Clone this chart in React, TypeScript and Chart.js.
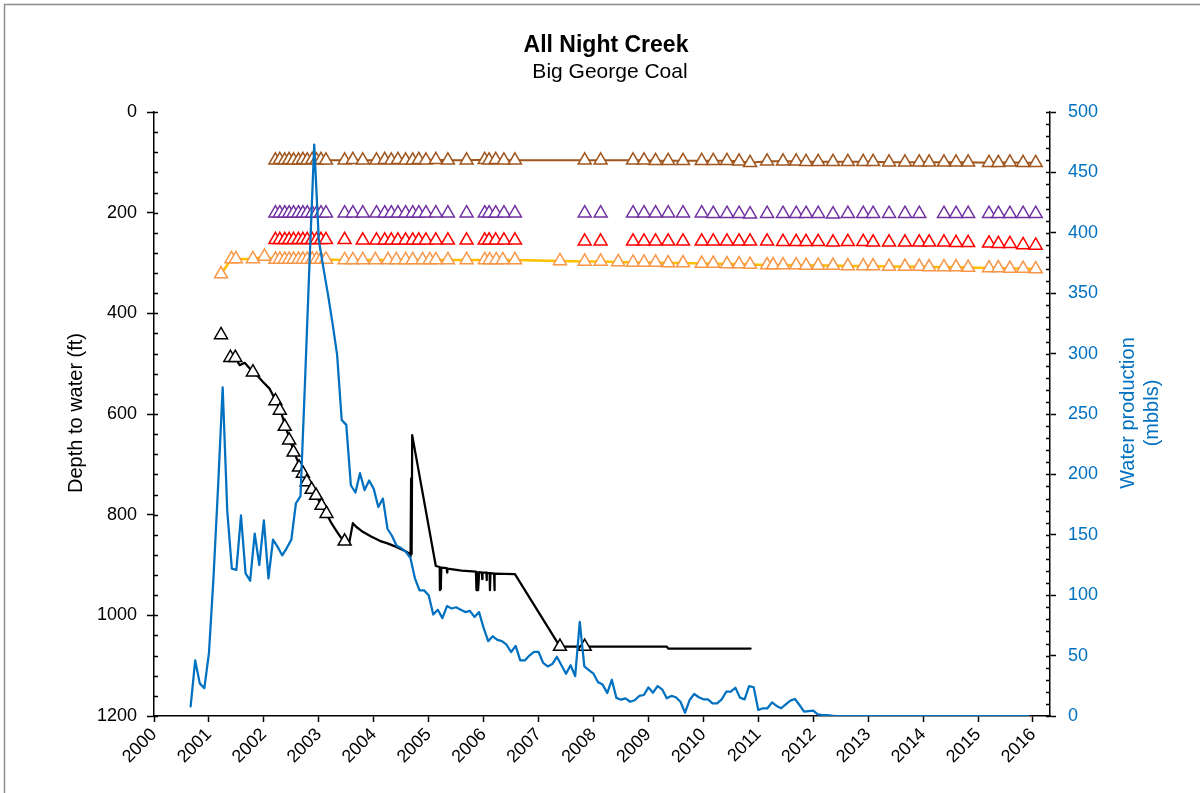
import React, { useEffect, useRef } from "react";
import { Chart, registerables } from "chart.js";

Chart.register(...registerables);

const FONT = '"Liberation Sans", Arial, Helvetica, sans-serif';

// ---- Text ----
const chartTitle = "All Night Creek";
const chartSubtitle = "Big George Coal";
const depthAxisTitle = "Depth to water (ft)";
const waterAxisTitle = ["Water production", "(mbbls)"];

// ---- Axes ----
const yearTicks = [2000, 2001, 2002, 2003, 2004, 2005, 2006, 2007, 2008, 2009, 2010, 2011, 2012, 2013, 2014, 2015, 2016];
const depthTicks = [0, 200, 400, 600, 800, 1000, 1200];
const waterTicks = [0, 50, 100, 150, 200, 250, 300, 350, 400, 450, 500];
const yearMin = 2000;
const yearMax = 2016.31;

// ---- Monthly water production (mbbls), first month Sep 2000 ----
const waterStartYear = 2000;
const waterStartMonth = 9;
const waterValues = [
  8, 46, 27, 23,
  52, 115, 190, 272, 170, 122, 121, 166, 118, 112, 151, 125,
  162, 114, 146, 140, 133, 139, 146, 176, 182, 278, 378, 473,
  394, 371, 349, 325, 299, 245, 241, 191, 185, 201, 187, 195,
  188, 173, 180, 155, 149, 141, 139, 136, 131, 114, 104, 104,
  100, 84, 88, 81, 91, 89, 90, 88, 86, 87, 82, 86,
  73, 62, 66, 63, 62, 59, 53, 58, 46, 46, 50, 53,
  53, 44, 41, 43, 49, 42, 35, 42, 33, 78, 41, 38,
  35, 28, 26, 19, 30, 15, 13.5, 14.6, 11.8, 13, 16.6, 17.4,
  23.7, 19.3, 24.8, 22.1, 14.6, 16.6, 15.5, 11.8, 2.7, 13.2, 18.2, 15.5,
  13.8, 13.8, 10.5, 10.5, 13.8, 20.1, 20.1, 23.4, 15.2, 13.8, 24.8, 23.7,
  5, 6.4, 6.4, 11.3, 8.3, 6.4, 9.7, 12.7, 14.1, 9.1, 3.6, 4.1,
  4.4, 1.4, 0.8, 0.8, 0.3, 0, 0, 0, 0, 0, 0, 0,
  0, 0, 0, 0, 0, 0, 0, 0, 0, 0, 0, 0,
  0, 0, 0, 0, 0, 0, 0, 0, 0, 0, 0, 0,
  0, 0, 0, 0, 0, 0, 0, 0, 0, 0, 0, 0,
];

// ---- Big George Coal well: transducer record (ft) ----
const coalLogYears = [
  2001.53, 2001.56, 2001.65, 2001.74, 2001.80, 2001.90, 2001.98, 2002.10, 2002.21, 2002.30,
  2002.38, 2002.47, 2002.54, 2002.64, 2002.71, 2002.78, 2002.87, 2002.95, 2003.05, 2003.14,
  2003.23, 2003.32, 2003.40, 2003.47, 2003.55, 2003.62, 2003.68, 2003.80, 2003.96, 2004.11,
  2004.25, 2004.41, 2004.55, 2004.65, 2004.67, 2004.68, 2004.685, 2004.695, 2004.70, 2005.13,
  2005.20, 2005.205, 2005.215, 2005.22, 2005.23, 2005.33, 2005.335, 2005.34, 2005.60, 2005.86,
  2005.87, 2005.88, 2005.90, 2005.92, 2005.97, 2005.975, 2005.98, 2006.05, 2006.055, 2006.06,
  2006.11, 2006.115, 2006.125, 2006.19, 2006.195, 2006.205, 2006.57, 2007.39, 2009.33, 2009.36,
  2010.86,
];
const coalLogDepths = [
  498, 503, 498, 509, 516, 526, 536, 549, 572, 592,
  620, 650, 673, 700, 716, 733, 749, 762, 782, 798,
  817, 832, 845, 852, 858, 817, 824, 834, 844, 852,
  857, 864, 871, 877, 883, 728, 878, 874, 642, 902,
  904, 950, 905, 948, 905, 906, 915, 907, 911, 913,
  950, 914, 950, 914, 915, 928, 915, 915, 930, 916,
  916, 950, 916, 917, 950, 917, 918, 1062, 1062, 1066,
  1066,
];

// ---- Big George Coal well: hand measurements (ft) ----
const coalManualYears = [
  2001.22, 2001.39, 2001.48, 2001.80, 2002.21, 2002.29, 2002.38, 2002.46, 2002.54, 2002.64,
  2002.71, 2002.78, 2002.87, 2002.95, 2003.05, 2003.14, 2003.47, 2007.39, 2007.84,
];
const coalManualDepths = [
  443, 488, 488, 517, 574, 593, 625, 652, 676, 706,
  718, 735, 750, 762, 782, 798, 853, 1062, 1062,
];

// ---- Shallower monitoring wells (ft) ----
const brownYears = [
  2002.21, 2002.29, 2002.38, 2002.46, 2002.54, 2002.63, 2002.71, 2002.79, 2002.88, 2002.96, 2003.04, 2003.13,
  2003.47, 2003.62, 2003.80, 2004.05, 2004.20, 2004.32, 2004.44, 2004.58, 2004.71, 2004.82, 2004.95, 2005.13,
  2005.35, 2005.69, 2006.02, 2006.10, 2006.22, 2006.37, 2006.57,
  2007.84, 2008.13, 2008.72, 2008.92, 2009.13, 2009.36, 2009.63, 2009.97, 2010.18, 2010.43, 2010.65, 2010.85,
  2011.16, 2011.45, 2011.69, 2011.87, 2012.09, 2012.36, 2012.63, 2012.91, 2013.09, 2013.38, 2013.67, 2013.93,
  2014.11, 2014.38, 2014.60, 2014.82, 2015.20, 2015.37, 2015.58, 2015.82, 2016.05,
];
const brownDepths = [
  96, 95, 96, 95, 96, 96, 95, 96, 95, 96, 95, 96,
  96, 95, 96, 96, 95, 96, 95, 96, 96, 95, 96, 95,
  96, 96, 95, 96, 95, 96, 96,
  96, 96, 96, 96, 97, 97, 97, 97, 97, 97, 98, 101,
  98, 98, 98, 99, 99, 99, 99, 99, 99, 100, 100, 100,
  100, 100, 100, 100, 101, 101, 100, 101, 101,
];

const purpleYears = [
  2002.21, 2002.29, 2002.38, 2002.46, 2002.54, 2002.63, 2002.71, 2002.79, 2002.88, 2002.96, 2003.04, 2003.13,
  2003.47, 2003.62, 2003.80, 2004.05, 2004.20, 2004.32, 2004.44, 2004.58, 2004.71, 2004.82, 2004.95, 2005.13,
  2005.35, 2005.69, 2006.02, 2006.10, 2006.22, 2006.37, 2006.57,
  2007.84, 2008.13, 2008.72, 2008.92, 2009.13, 2009.36, 2009.63, 2009.97, 2010.18, 2010.43, 2010.65, 2010.85,
  2011.16, 2011.45, 2011.69, 2011.87, 2012.09, 2012.36, 2012.63, 2012.91, 2013.09, 2013.38, 2013.67, 2013.93,
  2014.38, 2014.60, 2014.82, 2015.20, 2015.37, 2015.58, 2015.82, 2016.05,
];
const purpleDepths = [
  201, 201, 201, 201, 201, 201, 201, 201, 201, 201, 201, 201,
  201, 201, 201, 201, 201, 201, 201, 201, 201, 201, 201, 201,
  201, 201, 201, 201, 201, 201, 201,
  201, 201, 201, 201, 201, 201, 201, 201, 202, 202, 202, 203,
  202, 202, 202, 202, 202, 203, 202, 202, 202, 202, 202, 202,
  202, 202, 202, 202, 202, 202, 202, 202,
];

const redYears = [
  2002.21, 2002.29, 2002.38, 2002.46, 2002.54, 2002.63, 2002.71, 2002.79, 2002.88, 2002.96, 2003.04, 2003.13,
  2003.47, 2003.80, 2004.05, 2004.20, 2004.32, 2004.44, 2004.58, 2004.71, 2004.82, 2004.95, 2005.13,
  2005.35, 2005.69, 2006.02, 2006.10, 2006.22, 2006.37, 2006.57,
  2007.84, 2008.13, 2008.72, 2008.92, 2009.13, 2009.36, 2009.63, 2009.97, 2010.18, 2010.43, 2010.65, 2010.85,
  2011.16, 2011.45, 2011.69, 2011.87, 2012.09, 2012.36, 2012.63, 2012.91, 2013.09, 2013.38, 2013.67, 2013.93,
  2014.11, 2014.38, 2014.60, 2014.82, 2015.20, 2015.37, 2015.58, 2015.82, 2016.05,
];
const redDepths = [
  254, 254, 254, 254, 254, 254, 254, 254, 254, 254, 254, 254,
  254, 255, 255, 255, 255, 255, 255, 255, 255, 255, 255,
  255, 255, 255, 255, 255, 255, 255,
  257, 257, 257, 257, 257, 257, 257, 257, 257, 257, 257, 257,
  257, 258, 258, 258, 258, 259, 258, 258, 259, 259, 259, 259,
  259, 259, 260, 260, 261, 262, 262, 264, 265,
];

const orangeYears = [
  2001.22, 2001.41, 2001.49, 2001.80, 2002.01,
  2002.21, 2002.29, 2002.38, 2002.46, 2002.54, 2002.63, 2002.71, 2002.79, 2002.88, 2002.96, 2003.04, 2003.13,
  2003.47, 2003.62, 2003.80, 2004.03, 2004.26, 2004.41, 2004.58, 2004.71, 2004.89, 2005.02, 2005.13,
  2005.35, 2005.69, 2006.02, 2006.11, 2006.23, 2006.35, 2006.57,
  2007.39, 2007.84, 2008.13, 2008.45, 2008.72, 2008.92, 2009.13, 2009.36, 2009.63, 2009.97, 2010.18, 2010.43,
  2010.65, 2010.85, 2011.16, 2011.27, 2011.45, 2011.69, 2011.87, 2012.09, 2012.36, 2012.63, 2012.91, 2013.09,
  2013.38, 2013.67, 2013.93, 2014.11, 2014.38, 2014.60, 2014.82, 2015.20, 2015.37, 2015.58, 2015.82, 2016.05,
];
const orangeDepths = [
  322, 292, 292, 292, 287,
  293, 293, 293, 293, 293, 293, 293, 293, 293, 293, 293, 293,
  294, 294, 294, 294, 294, 294, 294, 294, 294, 294, 294,
  294, 294, 294, 294, 294, 294, 294,
  296, 297, 297, 298, 299, 299, 299, 300, 300, 301, 301, 302,
  302, 303, 304, 304, 304, 304, 305, 305, 305, 306, 306, 306,
  307, 307, 307, 308, 308, 308, 309, 310, 310, 311, 311, 312,
];

// ---- Colours ----
const BLUE = "#0070C0";
const BROWN = "#A0561E";
const PURPLE = "#7030A0";
const RED = "#FF0000";
const ORANGE = "#F79646";
const GOLD = "#FFC000";

const toPoints = (xs: number[], ys: number[]) => xs.map((x, i) => ({ x, y: ys[i] }));

const waterPoints = waterValues.map((v, i) => {
  const m = waterStartMonth - 1 + i;
  return { x: waterStartYear + m / 12, y: v };
});

// Extra axis furniture: inner tick halves, minor ticks, titles and frame
const furniturePlugin = {
  id: "furniture",
  beforeDraw(chart: any) {
    const { ctx, width, height } = chart;
    ctx.save();
    ctx.fillStyle = "#ffffff";
    ctx.fillRect(0, 0, width, height);
    ctx.restore();
  },
  afterDraw(chart: any) {
    const { ctx, chartArea } = chart;
    const yL = chart.scales.y;
    const yR = chart.scales.y1;
    ctx.save();

    ctx.strokeStyle = "#000";
    ctx.lineWidth = 1.5;
    ctx.beginPath();
    for (let v = 0; v <= 1200; v += 40) {
      const py = Math.round(yL.getPixelForValue(v)) + 0.5;
      ctx.moveTo(chartArea.left, py);
      ctx.lineTo(chartArea.left + 4, py);
    }
    for (let v = 0; v <= 500; v += 10) {
      const py = Math.round(yR.getPixelForValue(v)) + 0.5;
      ctx.moveTo(chartArea.right, py);
      ctx.lineTo(chartArea.right - 4, py);
    }
    ctx.stroke();

    // chart titles
    ctx.fillStyle = "#000";
    ctx.textAlign = "center";
    ctx.textBaseline = "middle";
    ctx.font = `bold 23px ${FONT}`;
    ctx.fillText(chartTitle, 606, 46);
    ctx.font = `21px ${FONT}`;
    ctx.fillText(chartSubtitle, 610, 72);

    // left axis title
    ctx.save();
    ctx.translate(76, 413);
    ctx.rotate(-Math.PI / 2);
    ctx.font = `20px ${FONT}`;
    ctx.fillStyle = "#000";
    ctx.fillText(depthAxisTitle, 0, 0);
    ctx.restore();

    // right axis title
    ctx.save();
    ctx.translate(1140, 413);
    ctx.rotate(-Math.PI / 2);
    ctx.font = `20px ${FONT}`;
    ctx.fillStyle = BLUE;
    ctx.fillText(waterAxisTitle[0], 0, -12);
    ctx.fillText(waterAxisTitle[1], 0, 12);
    ctx.restore();

    // outer frame
    ctx.strokeStyle = "#8c8c8c";
    ctx.lineWidth = 1.5;
    ctx.beginPath();
    ctx.moveTo(4.5, 800);
    ctx.lineTo(4.5, 4.5);
    ctx.lineTo(1200, 4.5);
    ctx.stroke();

    ctx.restore();
  },
};

const tickFont = { size: 18, family: FONT };

export default function App() {
  const canvasRef = useRef<HTMLCanvasElement | null>(null);

  useEffect(() => {
    const canvas = canvasRef.current;
    if (!canvas) return;

    const triangle = (color: string) => ({
      pointStyle: "triangle",
      pointRadius: 7.5,
      pointBackgroundColor: "#ffffff",
      pointBorderColor: color,
      pointBorderWidth: 1.5,
    });

    const chart = new Chart(canvas, {
      type: "scatter",
      data: {
        datasets: [
          {
            label: "Water production",
            data: waterPoints,
            yAxisID: "y1",
            showLine: true,
            borderColor: BLUE,
            borderWidth: 2.25,
            pointRadius: 0,
            order: 0,
          },
          {
            label: "Big George Coal (hand)",
            data: toPoints(coalManualYears, coalManualDepths),
            yAxisID: "y",
            showLine: false,
            ...triangle("#000"),
            order: 1,
          },
          {
            label: "Big George Coal",
            data: toPoints(coalLogYears, coalLogDepths),
            yAxisID: "y",
            showLine: true,
            borderColor: "#000",
            borderWidth: 2.25,
            pointRadius: 0,
            order: 2,
          },
          {
            label: "Well A",
            data: toPoints(brownYears, brownDepths),
            yAxisID: "y",
            showLine: true,
            borderColor: BROWN,
            borderWidth: 2,
            ...triangle(BROWN),
            order: 3,
          },
          {
            label: "Well B",
            data: toPoints(purpleYears, purpleDepths),
            yAxisID: "y",
            showLine: false,
            borderColor: PURPLE,
            ...triangle(PURPLE),
            order: 4,
          },
          {
            label: "Well C",
            data: toPoints(redYears, redDepths),
            yAxisID: "y",
            showLine: false,
            borderColor: RED,
            ...triangle(RED),
            order: 5,
          },
          {
            label: "Well D",
            data: toPoints(orangeYears, orangeDepths),
            yAxisID: "y",
            showLine: true,
            borderColor: GOLD,
            borderWidth: 2.5,
            ...triangle(ORANGE),
            order: 6,
          },
        ] as any,
      },
      options: {
        responsive: false,
        animation: false,
        events: [],
        layout: { padding: { top: 112, left: 0, right: 0, bottom: 0 } },
        elements: {
          line: { tension: 0, borderJoinStyle: "round", borderCapStyle: "round" },
        },
        plugins: {
          legend: { display: false },
          tooltip: { enabled: false },
          title: { display: false },
        },
        scales: {
          x: {
            type: "linear",
            position: "bottom",
            min: yearMin,
            max: yearMax,
            afterBuildTicks: (s: any) => {
              s.ticks = yearTicks.map((v) => ({ value: v }));
            },
            afterFit: (s: any) => {
              s.height = 77;
            },
            grid: { drawOnChartArea: false, drawTicks: true, tickLength: 6, tickColor: "#000", tickWidth: 1.5 },
            border: { display: true, color: "#000", width: 1.5 },
            ticks: {
              autoSkip: false,
              minRotation: 45,
              maxRotation: 45,
              padding: 2,
              color: "#000",
              font: tickFont,
              callback: (v: any) => String(v),
            },
          },
          y: {
            type: "linear",
            position: "left",
            reverse: true,
            min: 0,
            max: 1200,
            afterBuildTicks: (s: any) => {
              s.ticks = depthTicks.map((v) => ({ value: v }));
            },
            afterFit: (s: any) => {
              s.width = 154;
            },
            grid: { drawOnChartArea: false, drawTicks: true, tickLength: 7, tickColor: "#000", tickWidth: 1.5 },
            border: { display: true, color: "#000", width: 1.5 },
            ticks: { padding: 10, color: "#000", font: tickFont, callback: (v: any) => String(v) },
          },
          y1: {
            type: "linear",
            position: "right",
            min: 0,
            max: 500,
            afterBuildTicks: (s: any) => {
              s.ticks = waterTicks.map((v) => ({ value: v }));
            },
            afterFit: (s: any) => {
              s.width = 152;
            },
            grid: { drawOnChartArea: false, drawTicks: true, tickLength: 6, tickColor: "#000", tickWidth: 1.5 },
            border: { display: true, color: "#000", width: 1.5 },
            ticks: { padding: 12, color: BLUE, font: tickFont, callback: (v: any) => String(v) },
          },
        },
      } as any,
      plugins: [furniturePlugin],
    });

    return () => chart.destroy();
  }, []);

  return (
    <div style={{ position: "absolute", left: 0, top: 0, width: 1202, height: 793 }}>
      <canvas ref={canvasRef} width={1202} height={793} style={{ display: "block", width: 1202, height: 793 }} />
    </div>
  );
}
